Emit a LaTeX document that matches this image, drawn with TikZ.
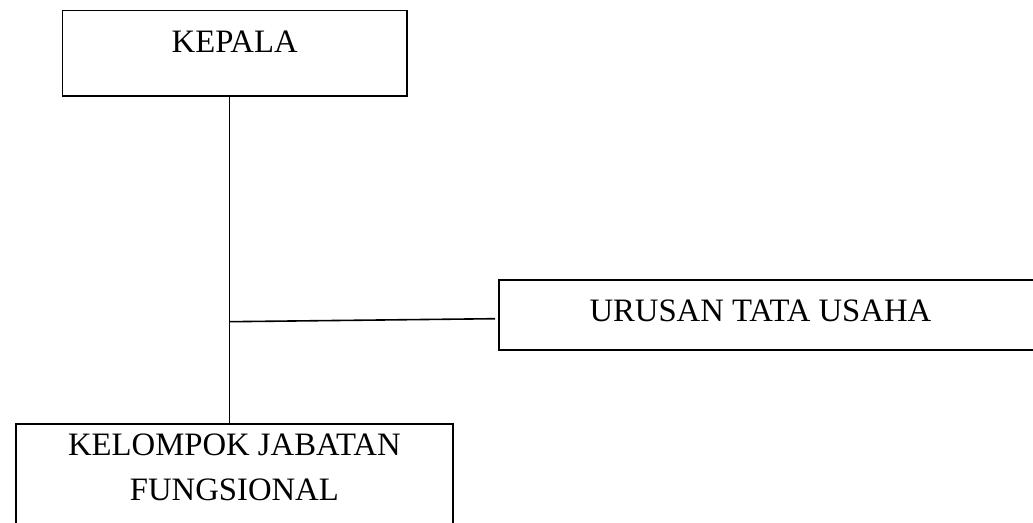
\documentclass[tikz,border=0pt]{standalone}
\usepackage{fontspec}
\setmainfont{Liberation Serif}
\begin{document}
\begin{tikzpicture}[x=1pt,y=-1pt,
  box/.style={draw,line width=1.8pt,inner sep=0pt,font=\fontsize{32.7}{45}\selectfont},
  conn/.style={line width=1.6pt}]
\useasboundingbox (0,0) rectangle (1033,522);
\node[box,minimum width=344.5pt,text height=42.5pt,text depth=43pt,anchor=north west] (kepala) at (61.5,9.5) {KEPALA};
\node[box,minimum width=545pt,text height=42pt,text depth=28pt,anchor=north west] (urusan) at (498,279) {URUSAN TATA USAHA\hspace*{22pt}};
\node[box,minimum width=437pt,text height=77pt,text depth=45pt,align=center,anchor=north west] (kelompok) at (15,423) {KELOMPOK JABATAN\\FUNGSIONAL};
\coordinate (j) at (229.5,321.7);
\coordinate (ue) at (495,318.7);
\draw[conn] (kepala.south -| j) -- (kelompok.north -| j);
\draw[conn] (j) -- (ue);
\end{tikzpicture}
\end{document}
